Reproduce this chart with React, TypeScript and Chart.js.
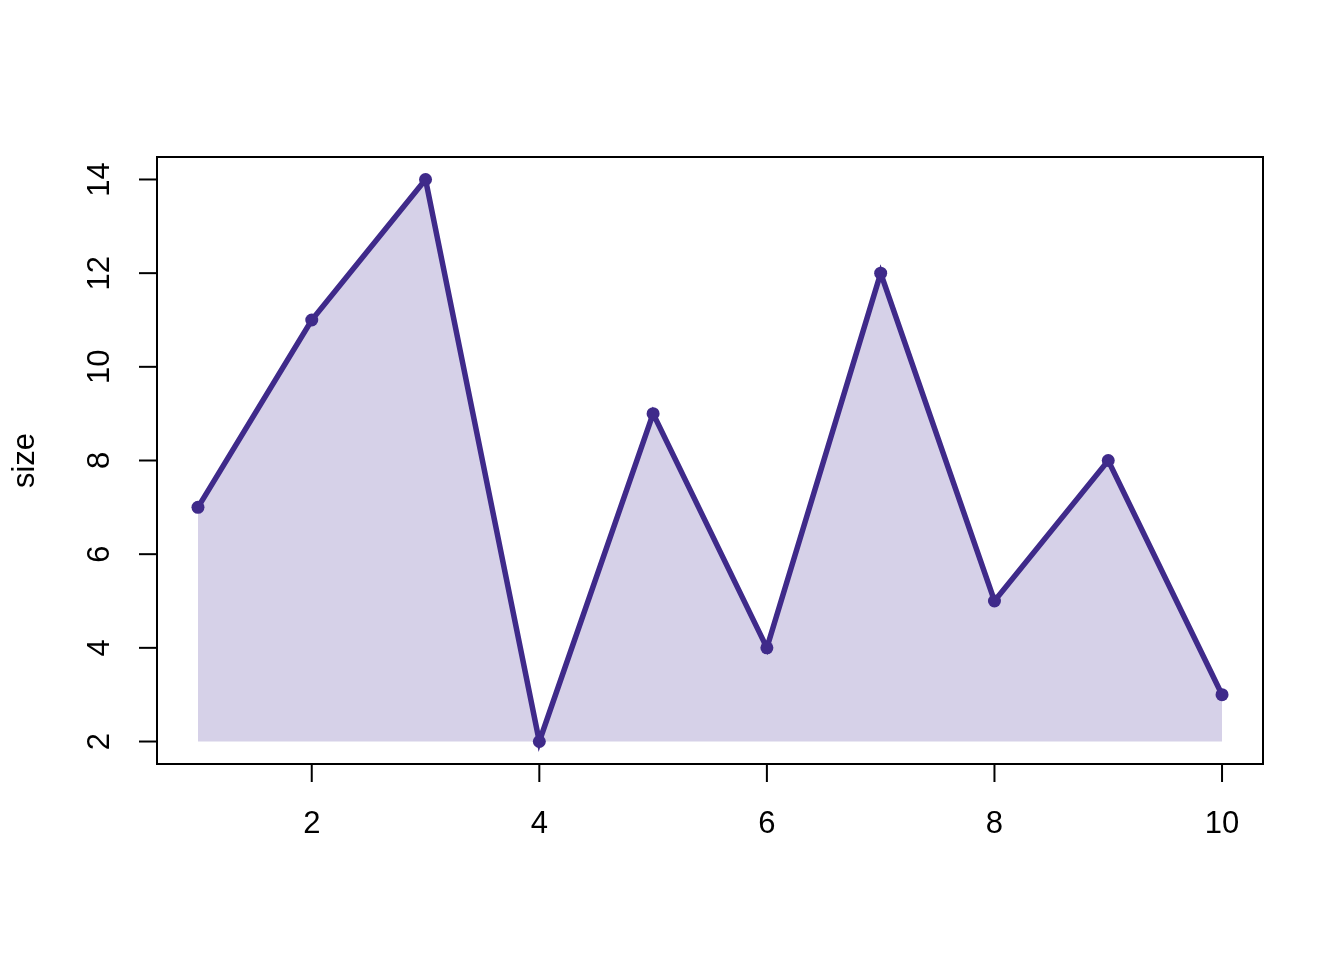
import React, { useEffect, useRef } from "react";
import { Chart, registerables } from "chart.js";

Chart.register(...registerables);

const xValues = [1, 2, 3, 4, 5, 6, 7, 8, 9, 10];
const sizeValues = [7, 11, 14, 2, 9, 4, 12, 5, 8, 3];
const xTicks = [2, 4, 6, 8, 10];
const yTicks = [2, 4, 6, 8, 10, 12, 14];
const yTitle = "size";

const LINE = "#3f2a8a";
const FILL = "#d6d1e8";
const FONT = "31px 'Liberation Sans', Arial, sans-serif";

const axesPlugin = {
  id: "rAxes",
  afterDraw(chart: any) {
    const { ctx, chartArea } = chart;
    const xs = chart.scales.x;
    const ys = chart.scales.y;
    ctx.save();
    ctx.strokeStyle = "#000";
    ctx.lineWidth = 2;
    ctx.strokeRect(chartArea.left, chartArea.top, chartArea.right - chartArea.left, chartArea.bottom - chartArea.top);
    ctx.fillStyle = "#000";
    ctx.font = FONT;
    // x axis
    const bx = chartArea.bottom;
    ctx.beginPath();
    ctx.moveTo(xs.getPixelForValue(xTicks[0]), bx);
    ctx.lineTo(xs.getPixelForValue(xTicks[xTicks.length - 1]), bx);
    ctx.stroke();
    ctx.textAlign = "center";
    ctx.textBaseline = "middle";
    for (const t of xTicks) {
      const px = xs.getPixelForValue(t);
      ctx.beginPath();
      ctx.moveTo(px, bx);
      ctx.lineTo(px, bx + 18);
      ctx.stroke();
      ctx.fillText(String(t), px, bx + 60);
    }
    // y axis
    const lx = chartArea.left;
    ctx.beginPath();
    ctx.moveTo(lx, ys.getPixelForValue(yTicks[0]));
    ctx.lineTo(lx, ys.getPixelForValue(yTicks[yTicks.length - 1]));
    ctx.stroke();
    for (const t of yTicks) {
      const py = ys.getPixelForValue(t);
      ctx.beginPath();
      ctx.moveTo(lx, py);
      ctx.lineTo(lx - 18, py);
      ctx.stroke();
      ctx.save();
      ctx.translate(lx - 57, py);
      ctx.rotate(-Math.PI / 2);
      ctx.fillText(String(t), 0, 0);
      ctx.restore();
    }
    ctx.save();
    ctx.translate(25, (chartArea.top + chartArea.bottom) / 2);
    ctx.rotate(-Math.PI / 2);
    ctx.fillText(yTitle, 0, 0);
    ctx.restore();
    ctx.restore();
  },
};

export default function App() {
  const ref = useRef<HTMLCanvasElement>(null);
  useEffect(() => {
    if (!ref.current) return;
    const chart = new Chart(ref.current, {
      type: "line",
      data: {
        datasets: [
          {
            label: yTitle,
            data: xValues.map((x, i) => ({ x, y: sizeValues[i] })),
            borderColor: LINE,
            backgroundColor: FILL,
            borderWidth: 5.5,
            pointRadius: 6.5,
            pointBackgroundColor: LINE,
            pointBorderColor: LINE,
            pointBorderWidth: 0,
            fill: { value: 2 },
            tension: 0,
          },
        ],
      },
      options: {
        responsive: false,
        animation: false,
        devicePixelRatio: 1,
        layout: { padding: { left: 157, right: 81, top: 157, bottom: 196 } },
        plugins: { legend: { display: false }, tooltip: { enabled: false } },
        scales: {
          x: { type: "linear", min: 0.64, max: 10.36, display: false },
          y: { type: "linear", min: 1.52, max: 14.48, display: false },
        },
      },
      plugins: [axesPlugin],
    });
    return () => chart.destroy();
  }, []);
  return (
    <div style={{ position: "fixed", left: 0, top: 0, width: 1344, height: 960, background: "#fff" }}>
      <canvas ref={ref} width={1344} height={960} style={{ width: 1344, height: 960, display: "block" }} />
    </div>
  );
}
